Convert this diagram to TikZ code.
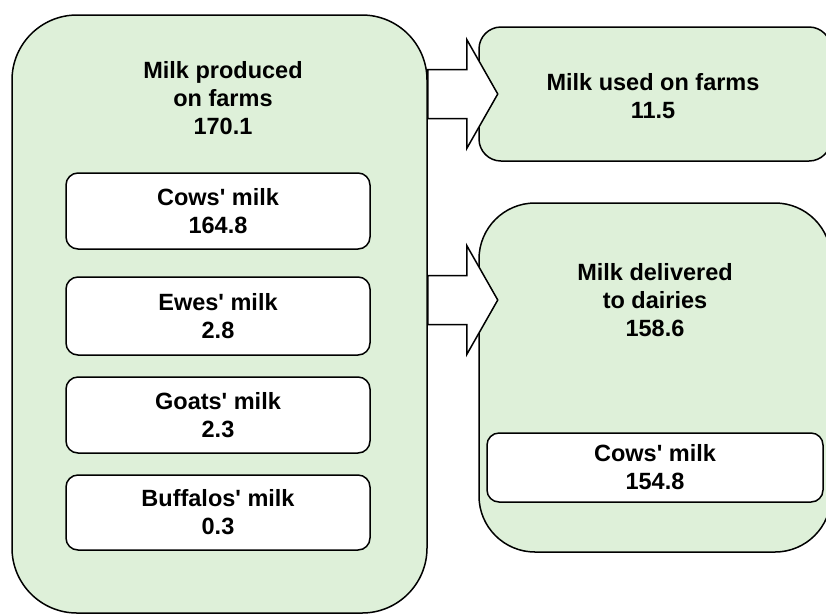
\documentclass[tikz,border=0pt]{standalone}
\usepackage{fontspec}
\setmainfont{Liberation Sans}
\usetikzlibrary{calc}
\definecolor{milkgreen}{RGB}{222,240,217}
\tikzset{
  bigbox/.style={draw, line width=1.5pt, fill=milkgreen},
  itembox/.style={draw, line width=1.5pt, fill=white, rounded corners=12pt, align=center},
  blockarrow/.style={draw, line width=1.5pt, fill=white, line join=miter},
}
\newcommand{\ap}{\textquotesingle}

\begin{document}
\begin{tikzpicture}[x=1pt, y=-1pt, font=\fontsize{23.5}{28}\selectfont\bfseries]
  \useasboundingbox (0,0) rectangle (826,614);
  \clip (0,0) rectangle (826,614);
  % produced on farms
  \node[bigbox, rounded corners=65pt, minimum width=415pt, minimum height=598pt] (prod) at (219.5,314) {};
  \node[align=center] (prodlbl) at (223,98) {Milk produced\\on farms\\170.1};
  \node[itembox, minimum width=304pt, minimum height=76pt] (cows) at (218,211) {Cows\ap{} milk\\164.8};
  \node[itembox, minimum width=304pt, minimum height=78pt] (ewes) at (218,316) {Ewes\ap{} milk\\2.8};
  \node[itembox, minimum width=304pt, minimum height=76pt] (goats) at (218,415) {Goats\ap{} milk\\2.3};
  \node[itembox, minimum width=304pt, minimum height=75pt] (buff) at (218,512.5) {Buffalos\ap{} milk\\0.3};
  % used on farms
  \node[bigbox, rounded corners=22pt, minimum width=352pt, minimum height=134pt] (used) at (655,94) {};
  \node[align=center] (usedlbl) at (653,96) {Milk used on farms\\11.5};
  % delivered to dairies
  \node[bigbox, rounded corners=56pt, minimum width=352pt, minimum height=349pt] (deliv) at (655,377.5) {};
  \node[align=center] (delivlbl) at (655,300) {Milk delivered\\to dairies\\158.6};
  \node[itembox, minimum width=336pt, minimum height=69pt] (dcows) at (655,467.5) {Cows\ap{} milk\\154.8};
  % block arrows
  \coordinate (a1) at (prod.east |- used.west);
  \coordinate (a2) at (prod.east |- delivlbl);
  \foreach \a in {a1,a2}
    \draw[blockarrow, shift={(\a)}] (0,-24.5) -- (39,-24.5) -- (39,-54.5) -- (70,0)
      -- (39,54.5) -- (39,24.5) -- (0,24.5) -- cycle;
\end{tikzpicture}
\end{document}
